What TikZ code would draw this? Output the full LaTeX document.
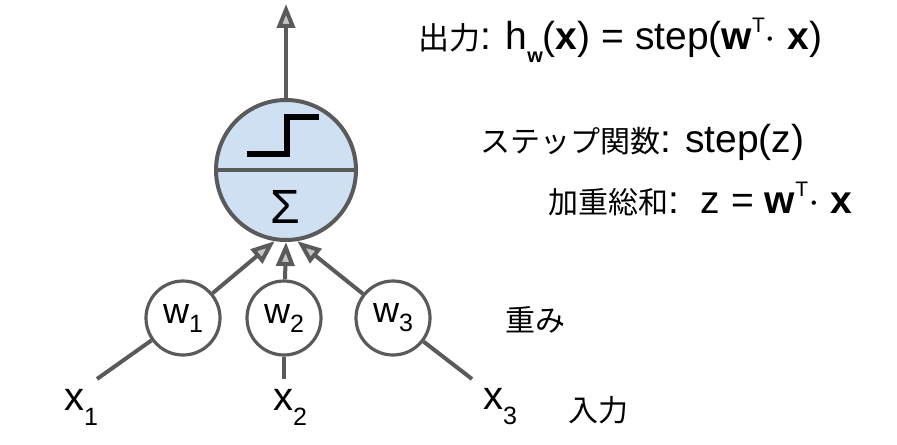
\documentclass[tikz,border=0pt]{standalone}
\usepackage{fontspec}
\setmainfont{Liberation Sans}
\newfontfamily\jpfont{Noto Sans CJK JP}
\usetikzlibrary{arrows.meta,calc}
\definecolor{linegray}{RGB}{90,90,90}
\definecolor{cellblue}{RGB}{207,224,242}

\begin{document}
\begin{tikzpicture}[x=0.5pt, y=-0.5pt, >={Triangle[length=12pt, width=9pt, fill=gray!45]},
 link/.style={draw=linegray, line width=2pt},
 neuron/.style={circle, draw=linegray, line width=2pt, fill=cellblue, minimum size=70pt, inner sep=0pt},
 weight/.style={circle, draw=linegray, line width=1.6pt, fill=white, minimum size=37pt, inner sep=0pt, font=\fontsize{18pt}{18pt}\selectfont},
 inlabel/.style={font=\fontsize{20pt}{20pt}\selectfont},
 formula/.style={anchor=base west, inner sep=0pt, font=\fontsize{19.5pt}{19.5pt}\selectfont},
 jplabel/.style={font=\fontsize{15pt}{15pt}\selectfont\jpfont},
 stepline/.style={line width=3pt, black}]
\useasboundingbox (0,0) rectangle (897,444);

% neuron
\node[neuron] (neuron) at (286,170) {};
\draw[link] (neuron.west) -- (neuron.east);
\draw[stepline] ($(neuron.center)+(-39,-16)$) -- ++(40,0) -- ++(0,-37) -- ++(32,0);
\node[font=\fontsize{24pt}{24pt}\selectfont] (sigma) at (285,207) {Σ};

% weights
\node[weight] (w1) at (183,318) {w\raisebox{-4.5pt}{\fontsize{12.5pt}{12.5pt}\selectfont 1}};
\node[weight] (w2) at (284,318) {w\raisebox{-4.5pt}{\fontsize{12.5pt}{12.5pt}\selectfont 2}};
\node[weight] (w3) at (393,318) {w\raisebox{-4.5pt}{\fontsize{12.5pt}{12.5pt}\selectfont 3}};

% inputs
\coordinate (out) at (286,4);
\coordinate (in1) at (97,379);
\coordinate (in2) at (284,379);
\coordinate (in3) at (472,379);
\node[inlabel] (x1) at (81,407) {x\raisebox{-7.5pt}{\fontsize{12.5pt}{12.5pt}\selectfont 1}};
\node[inlabel] (x2) at (290,407) {x\raisebox{-7.5pt}{\fontsize{12.5pt}{12.5pt}\selectfont 2}};
\node[inlabel] (x3) at (500,407) {x\raisebox{-7.5pt}{\fontsize{12.5pt}{12.5pt}\selectfont 3}};

\draw[link,->] (neuron) -- (out);
\draw[link,->] (w1) -- (neuron.-99);
\draw[link,->] (w2) -- (neuron.south);
\draw[link,->] (w3) -- (neuron.-81);
\draw[link] (in1) -- (w1);
\draw[link] (in2) -- (w2);
\draw[link] (in3) -- (w3);

% formulas
\node[formula] (output) at (418,50) {{\jpfont\fontsize{15.5pt}{15.5pt}\selectfont 出力}: h\raisebox{-6.5pt}{\fontsize{10pt}{10pt}\selectfont\bfseries w}(\textbf{x}) = step(\textbf{w}\raisebox{8.5pt}{\fontsize{10.5pt}{10.5pt}\selectfont T}$\cdot$ \textbf{x})};
\node[formula] (stepfn) at (480,152) {{\jpfont\fontsize{15pt}{15pt}\selectfont ステップ関数}:\hspace{7pt}step(z)};
\node[formula] (wsum) at (548,213) {{\jpfont\fontsize{15pt}{15pt}\selectfont 加重総和}:\ \ z = \textbf{w}\raisebox{8.5pt}{\fontsize{10.5pt}{10.5pt}\selectfont T}$\cdot$ \textbf{x}};
\node[jplabel] (wlabel) at (535,320) {重み};
\node[jplabel] (inlabel) at (598,410) {入力};
\end{tikzpicture}
\end{document}
